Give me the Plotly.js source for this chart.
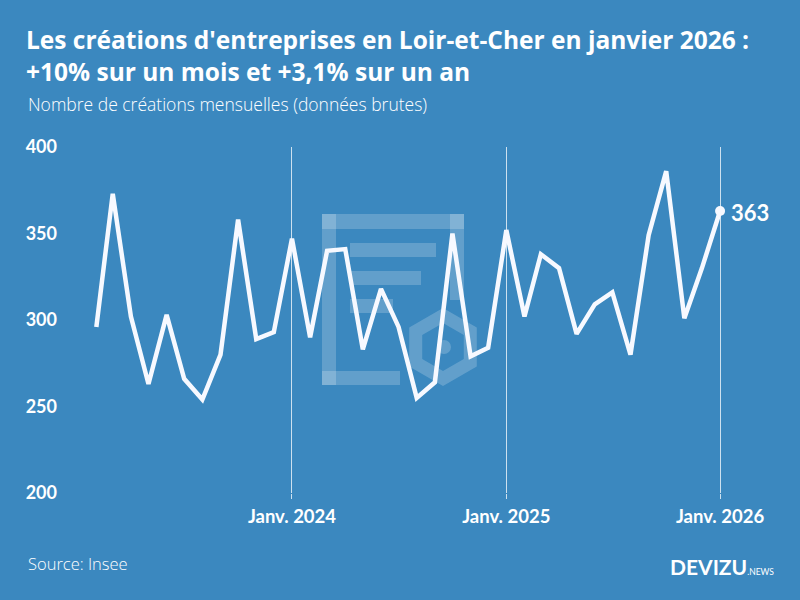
<!DOCTYPE html>
<html>
<head>
<meta charset="utf-8">
<script src="https://cdn.plot.ly/plotly-3.0.1.min.js"></script>
<style>
  html, body { margin: 0; padding: 0; background: #3b88bf; }
  #chart { width: 800px; height: 600px; }
</style>
</head>
<body>
<div id="chart"></div>
<script>
// ---- Data (monthly business creations, Loir-et-Cher, raw data) ----
const months = [
  '2023-02-01','2023-03-01','2023-04-01','2023-05-01','2023-06-01','2023-07-01',
  '2023-08-01','2023-09-01','2023-10-01','2023-11-01','2023-12-01',
  '2024-01-01','2024-02-01','2024-03-01','2024-04-01','2024-05-01','2024-06-01',
  '2024-07-01','2024-08-01','2024-09-01','2024-10-01','2024-11-01','2024-12-01',
  '2025-01-01','2025-02-01','2025-03-01','2025-04-01','2025-05-01','2025-06-01',
  '2025-07-01','2025-08-01','2025-09-01','2025-10-01','2025-11-01','2025-12-01',
  '2026-01-01'
];
const creations = [
  296, 373, 302, 263, 303, 266, 254, 280, 358, 289, 293,
  347, 290, 340, 341, 283, 318, 296, 255, 264, 350, 279, 284,
  352, 302, 338, 330, 292, 309, 316, 280, 349, 386, 301, 330,
  363
];
const tickDates = ['2024-01-01', '2025-01-01', '2026-01-01'];
const tickLabels = ['Janv. 2024', 'Janv. 2025', 'Janv. 2026'];
const yTicks = [200, 250, 300, 350, 400];

const titleText = "Les créations d'entreprises en Loir-et-Cher en janvier 2026 :<br>+10% sur un mois et +3,1% sur un an";
const subtitleText = "Nombre de créations mensuelles (données brutes)";
const sourceText = "Source: Insee";

// ---- Layout geometry ----
const W = 800, H = 600;
const M = { l: 70, r: 60, t: 147, b: 107 };
const PW = W - M.l - M.r, PH = H - M.t - M.b;
const px = v => (v - M.l) / PW;           // pixel x -> paper x
const py = v => (H - M.b - v) / PH;        // pixel y -> paper y

const BG = '#3b88bf';
const WM = 'rgba(255,255,255,0.2)';
const FONT = 'Lato, "Open Sans", sans-serif';
const FONT2 = '"Open Sans", Lato, sans-serif';

// watermark (decorative logo) built from shapes
function rect(x0, y0, x1, y1) {
  return { type: 'rect', xref: 'paper', yref: 'paper', layer: 'below',
    x0: px(x0), x1: px(x1), y0: py(y1), y1: py(y0),
    fillcolor: WM, line: { width: 0 } };
}
function hexPath(cx, cy, r) {
  let s = '';
  for (let i = 0; i < 6; i++) {
    const a = Math.PI / 2 + i * Math.PI / 3;
    const x = px(cx + r * Math.cos(a)), y = py(cy - r * Math.sin(a));
    s += (i === 0 ? 'M' : 'L') + x + ',' + y + ' ';
  }
  return s + 'Z ';
}
const shapes = [
  rect(322, 214, 464, 229),
  rect(322, 214, 336, 385),
  rect(322, 371, 400, 385),
  rect(450, 214, 464, 300),
  rect(350, 243, 436, 257),
  rect(350, 271, 421, 285),
  rect(350, 299, 393, 313),
  { type: 'path', xref: 'paper', yref: 'paper', layer: 'below',
    path: hexPath(443, 347, 39) + hexPath(443, 347, 24),
    fillrule: 'evenodd', fillcolor: WM, line: { width: 0 } },
  { type: 'circle', xref: 'paper', yref: 'paper', layer: 'below',
    x0: px(437), x1: px(451), y0: py(354), y1: py(340),
    fillcolor: WM, line: { width: 0 } }
];

const lastIdx = creations.length - 1;

const traces = [
  {
    x: months, y: creations, type: 'scatter', mode: 'lines',
    line: { color: '#f7f9ff', width: 4.5 },
    hoverinfo: 'x+y'
  },
  {
    x: [months[lastIdx]], y: [creations[lastIdx]], type: 'scatter',
    mode: 'markers',
    marker: { color: '#f7f9ff', size: 10 },
    cliponaxis: false, hoverinfo: 'skip'
  }
];

const layout = {
  width: W, height: H,
  paper_bgcolor: BG, plot_bgcolor: BG,
  margin: M,
  showlegend: false,
  font: { family: FONT, color: '#ffffff' },
  title: {
    text: titleText,
    font: { family: FONT2, size: 24.5, color: '#ffffff', weight: 700 },
    xref: 'container', yref: 'container',
    x: 26 / W, xanchor: 'left',
    y: 1 - 49 / H, yanchor: 'top'
  },
  xaxis: {
    type: 'date',
    range: ['2022-12-18', '2026-02-04'],
    tickmode: 'array', tickvals: tickDates, ticktext: tickLabels,
    showgrid: true, gridcolor: 'rgba(255,255,255,0.75)', gridwidth: 1,
    ticks: 'outside', ticklen: 5, tickcolor: 'rgba(255,255,255,0.75)',
    ticklabelstandoff: 2,
    tickfont: { family: FONT, size: 18.5, color: '#ffffff', weight: 700 },
    showline: false, zeroline: false, fixedrange: true
  },
  yaxis: {
    range: [200, 400],
    tickmode: 'array', tickvals: yTicks,
    showgrid: false, zeroline: false, showline: false,
    ticks: '', ticklabelstandoff: 12,
    tickfont: { family: FONT, size: 18, color: '#ffffff', weight: 700 },
    fixedrange: true
  },
  shapes: shapes,
  annotations: [
    { text: subtitleText, xref: 'paper', yref: 'paper',
      x: px(26), y: py(104), xanchor: 'left', yanchor: 'middle', showarrow: false,
      font: { family: FONT2, size: 17.5, color: '#ffffff', weight: 300 } },
    { text: sourceText, xref: 'paper', yref: 'paper',
      x: px(26), y: py(563), xanchor: 'left', yanchor: 'middle', showarrow: false,
      font: { family: FONT2, size: 16.5, color: '#ffffff', weight: 300 } },
    { text: '<b>DEVIZU</b><span style="font-size:8.5px">.NEWS</span>', xref: 'paper', yref: 'paper',
      x: px(776), y: py(566), xanchor: 'right', yanchor: 'middle', showarrow: false,
      font: { family: FONT, size: 21, color: '#ffffff' } },
    { text: String(creations[lastIdx]), x: months[lastIdx], y: creations[lastIdx],
      xref: 'x', yref: 'y', xanchor: 'left', yanchor: 'middle', showarrow: false,
      xshift: 9, yshift: -1,
      font: { family: FONT, size: 22, color: '#ffffff', weight: 700 } }
  ]
};

Plotly.newPlot('chart', traces, layout, { displayModeBar: false, staticPlot: true });
</script>
</body>
</html>
